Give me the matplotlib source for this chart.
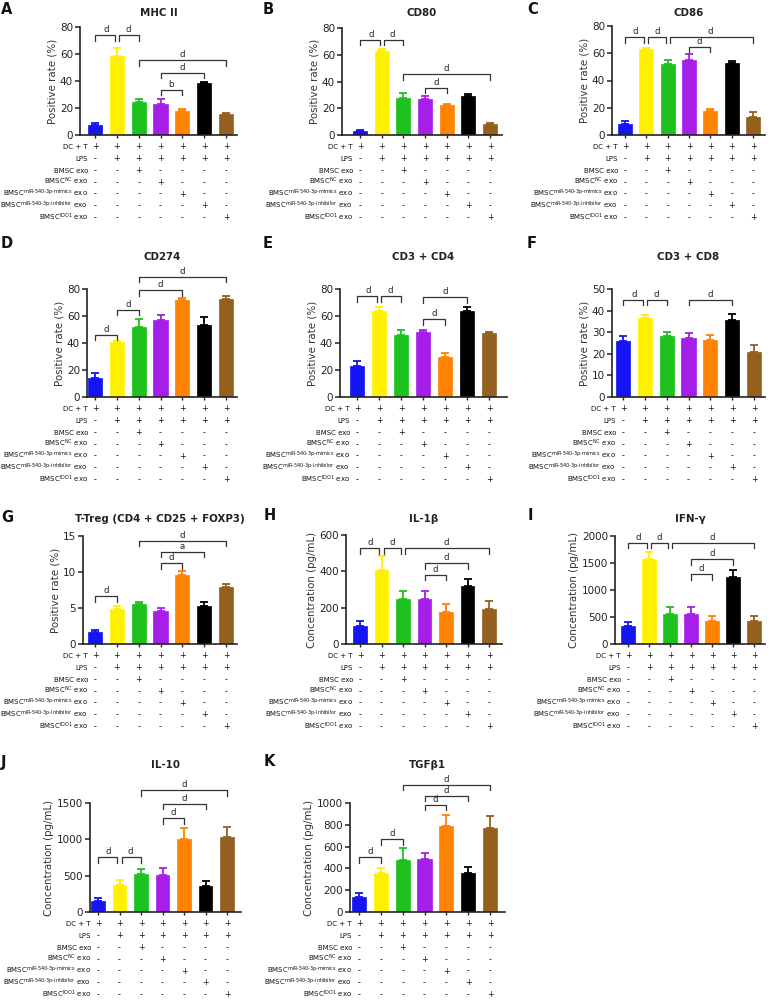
import matplotlib
matplotlib.use('Agg')
import matplotlib.pyplot as plt
from matplotlib.transforms import blended_transform_factory, offset_copy

plt.rcParams['font.family'] = ['DejaVu Sans']
plt.rcParams['mathtext.fontset'] = 'dejavusans'

# ---------------- data ----------------
bar_colors = ['#1414f5', '#fff000', '#1ec21e', '#a51fe8', '#ff8200', '#000000', '#93601f']

row_labels = ['DC + T', 'LPS', 'BMSC exo',
              r'BMSC$^{\mathrm{NC}}$ exo',
              r'BMSC$^{\mathrm{miR‐540‐3p‐mimics}}$ exo',
              r'BMSC$^{\mathrm{miR‐540‐3p‐inhibitor}}$ exo',
              r'BMSC$^{\mathrm{IDO1}}$ exo']
row_signs = [['+', '+', '+', '+', '+', '+', '+'],
             ['-', '+', '+', '+', '+', '+', '+'],
             ['-', '-', '+', '-', '-', '-', '-'],
             ['-', '-', '-', '+', '-', '-', '-'],
             ['-', '-', '-', '-', '+', '-', '-'],
             ['-', '-', '-', '-', '-', '+', '-'],
             ['-', '-', '-', '-', '-', '-', '+']]

titles = ['MHC II', 'CD80', 'CD86', 'CD274', 'CD3 + CD4', 'CD3 + CD8',
          'T-Treg (CD4 + CD25 + FOXP3)', 'IL-1β', 'IFN-γ', 'IL-10', 'TGFβ1']
letters = ['A', 'B', 'C', 'D', 'E', 'F', 'G', 'H', 'I', 'J', 'K']
ylabels = ['Positive rate (%)'] * 7 + ['Concentration (pg/mL)'] * 4

mhc2_mean = [7.4, 58.4, 24.6, 22.9, 17.7, 38.4, 15.8]
mhc2_err = [1.7, 6.1, 1.7, 3.4, 1.5, 1.2, 0.7]
cd80_mean = [3.0, 62.9, 28.0, 27.0, 22.4, 29.3, 8.2]
cd80_err = [0.7, 1.7, 3.5, 2.3, 0.5, 1.7, 0.5]
cd86_mean = [7.8, 63.1, 52.1, 55.0, 17.6, 52.6, 13.5]
cd86_err = [2.7, 0.5, 2.9, 4.2, 1.4, 2.0, 3.6]
cd274_mean = [14.0, 40.5, 52.0, 57.0, 72.0, 53.0, 72.5]
cd274_err = [4.0, 1.0, 6.0, 3.5, 1.5, 6.5, 2.5]
cd4_mean = [23.0, 64.0, 46.0, 48.0, 30.0, 63.5, 47.5]
cd4_err = [3.5, 3.0, 3.5, 2.0, 2.5, 3.0, 0.5]
cd8_mean = [26.0, 36.5, 28.3, 27.3, 26.3, 35.7, 21.0]
cd8_err = [2.3, 1.5, 1.9, 2.4, 2.4, 2.8, 3.0]
treg_mean = [1.7, 4.9, 5.5, 4.6, 9.6, 5.3, 7.9]
treg_err = [0.3, 0.4, 0.4, 0.4, 0.6, 0.6, 0.4]
il1b_mean = [100, 410, 250, 245, 175, 320, 190]
il1b_err = [25, 75, 40, 45, 45, 40, 45]
ifng_mean = [330, 1570, 560, 550, 430, 1240, 430]
ifng_err = [70, 130, 130, 130, 90, 130, 90]
il10_mean = [150, 370, 520, 510, 1000, 360, 1030]
il10_err = [40, 70, 70, 100, 150, 60, 140]
tgfb1_mean = [140, 355, 480, 490, 790, 360, 775]
tgfb1_err = [35, 50, 105, 55, 100, 50, 110]

means = [mhc2_mean, cd80_mean, cd86_mean, cd274_mean, cd4_mean, cd8_mean,
         treg_mean, il1b_mean, ifng_mean, il10_mean, tgfb1_mean]
errs = [mhc2_err, cd80_err, cd86_err, cd274_err, cd4_err, cd8_err,
        treg_err, il1b_err, ifng_err, il10_err, tgfb1_err]

yticks = [[0, 20, 40, 60, 80]] * 5 + [[0, 10, 20, 30, 40, 50], [0, 5, 10, 15],
          [0, 200, 400, 600], [0, 500, 1000, 1500, 2000], [0, 500, 1000, 1500],
          [0, 200, 400, 600, 800, 1000]]

# significance brackets: (bar i, bar j, height, label)
brackets = [
    [(0, 1, 74, 'd'), (1, 2, 74, 'd'), (2, 6, 55.4, 'd'), (3, 5, 46, 'd'), (3, 4, 33.7, 'b')],
    [(0, 1, 71.3, 'd'), (1, 2, 71.3, 'd'), (2, 6, 45.5, 'd'), (3, 4, 35.5, 'd')],
    [(0, 1, 71.7, 'd'), (1, 2, 71.7, 'd'), (2, 6, 71.7, 'd'), (3, 4, 64.8, 'd')],
    [(0, 1, 46, 'd'), (1, 2, 64.6, 'd'), (2, 4, 79, 'd'), (2, 6, 89, 'd')],
    [(0, 1, 74.5, 'd'), (1, 2, 74.5, 'd'), (3, 5, 73.8, 'd'), (3, 4, 57.6, 'd')],
    [(0, 1, 45, 'd'), (1, 2, 45, 'd'), (3, 5, 45, 'd')],
    [(0, 1, 6.6, 'd'), (2, 6, 14.35, 'd'), (3, 5, 12.8, 'a'), (3, 4, 11.2, 'd')],
    [(0, 1, 527, 'd'), (1, 2, 527, 'd'), (2, 6, 527, 'd'), (3, 5, 444, 'd'), (3, 4, 380, 'd')],
    [(0, 1, 1876, 'd'), (1, 2, 1876, 'd'), (2, 6, 1876, 'd'), (3, 5, 1568, 'd'), (3, 4, 1296, 'd')],
    [(0, 1, 752, 'd'), (1, 2, 752, 'd'), (2, 6, 1675, 'd'), (3, 5, 1490, 'd'), (3, 4, 1292, 'd')],
    [(0, 1, 501, 'd'), (1, 2, 668, 'd'), (2, 6, 1169, 'd'), (3, 5, 1068, 'd'), (3, 4, 985, 'd')],
]

# ---------------- layout (pixels) ----------------
W, H = 771, 1000
# axes: x0, x1, y_top, y_bottom, first bar x, last bar x
axes_px = [(80, 237, 27, 135, 95, 226), (342, 502, 28, 135, 360, 490), (612, 765, 26, 135, 625, 753),
           (87, 237, 289, 397, 95, 226), (340, 507, 289, 397, 357, 489), (612, 765, 289, 397, 623, 754),
           (83, 237, 536, 644, 95, 226), (346, 502, 535, 644, 360, 489), (615, 765, 536, 644, 628, 754),
           (90, 241, 803, 912, 98, 227), (350, 505, 803, 912, 359, 490)]
title_y = [13, 13, 13, 257, 257, 257, 519, 519, 519, 765, 765]
letter_xy = [(1, 10), (263, 10), (527, 10), (1, 243), (263, 243), (527, 243),
             (1, 517), (264, 515), (528, 515), (1, 762), (264, 762)]

fig = plt.figure(figsize=(W / 100, H / 100), dpi=100)
PT = 0.72  # points per pixel
axis_color = '#222222'

for k in range(11):
    x0, x1, yt, yb, b0, b6 = axes_px[k]
    ax = fig.add_axes([x0 / W, 1 - yb / H, (x1 - x0) / W, (yb - yt) / H])
    sp = (b6 - b0) / 6.0
    ax.set_xlim((x0 - b0) / sp, 6 + (x1 - b6) / sp)
    ymax = yticks[k][-1]
    ax.set_ylim(0, ymax)
    hpx = yb - yt
    xs = list(range(7))
    m = means[k]
    e = errs[k]
    for i in xs:
        ax.bar(i, m[i], width=0.65, color=bar_colors[i], edgecolor=bar_colors[i],
               linewidth=0.5, zorder=2)
        ax.errorbar(i, m[i], yerr=[[0], [e[i]]], fmt='none', ecolor=bar_colors[i],
                    elinewidth=1.3, capsize=3.2, capthick=1.3, zorder=3)
    for s in ['top', 'right']:
        ax.spines[s].set_visible(False)
    for s in ['left', 'bottom']:
        ax.spines[s].set_linewidth(1.2)
        ax.spines[s].set_color(axis_color)
    ax.set_yticks(yticks[k])
    ax.set_xticks(xs)
    ax.set_xticklabels([])
    ax.tick_params(axis='y', direction='out', length=3.5, width=1.1, colors=axis_color,
                   labelsize=7.5, pad=1.5, labelcolor='#222222')
    ax.tick_params(axis='x', direction='out', length=2.5, width=1.0, colors=axis_color)
    ax.set_ylabel(ylabels[k], fontsize=7.4, labelpad=2, color='#333333')

    # brackets
    tick = 5.5 / hpx * ymax
    blist = brackets[k]
    for (i, j, y, lab) in blist:
        sl = 0.0
        sr = 0.0
        for (i2, j2, y2, _) in blist:
            if (i2, j2) == (i, j):
                continue
            if abs(y2 - y) < 1e-6 * ymax + 1e-9:
                if j2 == i:
                    sl = 0.1
                if i2 == j:
                    sr = 0.1
        xl = i + sl
        xr = j - sr
        ax.plot([xl, xl, xr, xr], [y - tick, y, y, y - tick], color='#333333', lw=0.9,
                clip_on=False, zorder=4)
        ax.text((i + j) / 2, y + 1.0 / hpx * ymax, lab, ha='center', va='bottom',
                fontsize=6.2, color='#222222', clip_on=False)

    # condition table
    trans = blended_transform_factory(ax.transData, ax.transAxes)
    for r in range(7):
        dy = -(12 + 11.8 * r + 2.4) * PT
        t = offset_copy(trans, fig=fig, x=0, y=dy, units='points')
        for i in xs:
            ax.text(i, 0, row_signs[r][i], transform=t, ha='center', va='baseline',
                    fontsize=5.8, color='#111111', clip_on=False)
        tl = offset_copy(trans, fig=fig, x=-7 * PT, y=dy, units='points')
        ax.text(0, 0, row_labels[r], transform=tl, ha='right', va='baseline',
                fontsize=5.0, color='#111111', clip_on=False)

    # title and panel letter
    fig.text((x0 + x1) / 2 / W, 1 - title_y[k] / H, titles[k], ha='center', va='center',
             fontsize=7.4, fontweight='bold', color='#222222')
    lx, ly = letter_xy[k]
    fig.text(lx / W, 1 - ly / H, letters[k], ha='left', va='center', fontsize=10.5,
             fontweight='bold', color='#111111')

fig.savefig('out.png', dpi=100)
